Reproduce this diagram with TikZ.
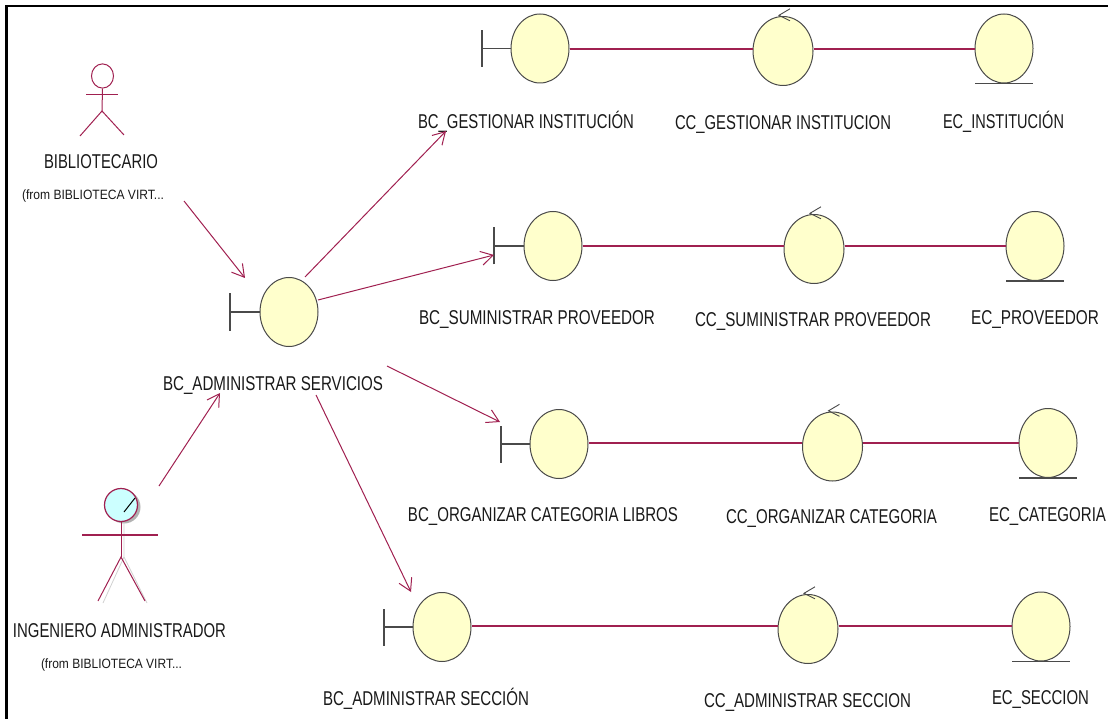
\documentclass[tikz,border=0pt]{standalone}
\usepackage{fontspec}
\usepackage{graphicx}
\setmainfont{Liberation Sans}
\usetikzlibrary{shapes.geometric,arrows.meta}
\definecolor{rose}{HTML}{A02050}
\definecolor{bodyfill}{HTML}{FFFFCC}
\definecolor{edgegray}{HTML}{4A4A4A}
\definecolor{headfill}{HTML}{CCFFFF}
\newcommand{\fitw}[2]{\resizebox{#1pt}{\height}{#2}}
\tikzset{
  ball/.style={ellipse,draw=edgegray,line width=1pt,fill=bodyfill,minimum width=58pt,minimum height=69pt,inner sep=0pt},
  ctrlball/.style={ball,minimum width=60pt},
  mark line/.style={draw=edgegray,line width=1.1pt},
  link/.style={draw=rose,line width=1.6pt},
  flow/.style={draw=rose,line width=1pt,-{Straight Barb[length=12pt,width=14pt,line width=1pt]}},
  limb/.style={draw=rose,line width=1pt},
  lbl/.style={inner sep=0pt,font=\fontsize{20}{20}\selectfont,text=black!90},
  ulbl/.style={lbl,yshift=-2pt},
  sublbl/.style={inner sep=0pt,font=\fontsize{13.5}{13.5}\selectfont,text=black!90},
  shade line/.style={draw=black!18,line width=0.8pt}
}
\begin{document}
\begin{tikzpicture}[x=1pt,y=-1pt]
\useasboundingbox (0,0) rectangle (1108,719);
\draw[line width=2.6pt] (6.5,719) -- (6.5,6) -- (1108,6);

% balls
\node[ball] (adm) at (289,312) {};
\node[ball] (b1) at (540,48.5) {};
\node[ctrlball] (c1) at (783,51) {};
\node[ball] (e1) at (1004,48.5) {};
\node[ball] (b2) at (553,246) {};
\node[ctrlball] (c2) at (814,249) {};
\node[ball] (e2) at (1035,246) {};
\node[ball] (b3) at (559,444) {};
\node[ctrlball] (c3) at (832.5,446.5) {};
\node[ball] (e3) at (1048,443) {};
\node[ball] (b4) at (442,627) {};
\node[ctrlball] (c4) at (808,629) {};
\node[ball] (e4) at (1041,626.5) {};

% boundary marks
\foreach \n/\bx in {adm/230,b1/482,b2/494,b3/501,b4/384}{
  \coordinate (bar-\n) at (\n.west -| \bx,0);
  \path[mark line] (bar-\n) -- (\n.west);
  \path[mark line] ([yshift=-18.5pt]bar-\n) -- ([yshift=18.5pt]bar-\n);
}
% entity underlines
\foreach \n in {e1,e2,e3,e4}{
  \path[mark line] ([xshift=-29pt]\n.south) -- ([xshift=29pt]\n.south);
}
% control arrows
\foreach \n in {c1,c2,c3,c4}{
  \coordinate (tip-\n) at ([xshift=-4pt,yshift=0.7pt]\n.north);
  \draw[edgegray,line width=0.9pt] ([xshift=11pt,yshift=-5.5pt]tip-\n) -- (tip-\n) -- ([xshift=11pt,yshift=6.5pt]tip-\n);
}
% row links
\coordinate (row1) at (0,49);
\coordinate (row2) at (0,246);
\coordinate (row3) at (0,443);
\coordinate (row4) at (0,626);
\foreach \a/\b/\r in {b1/c1/row1,c1/e1/row1,b2/c2/row2,c2/e2/row2,b3/c3/row3,c3/e3/row3,b4/c4/row4,c4/e4/row4}{
  \path[link] (\a.east |- \r) -- (\b.west |- \r);
}

% actor 1
\node[circle,draw=rose,line width=1pt,minimum size=22pt,inner sep=0pt,yscale=1.1] (head1) at (102.5,76) {};
\coordinate (hip1) at (102,111);
\coordinate (armL1) at (86,95);
\coordinate (armR1) at (118,95);
\coordinate (footL1) at (80,136);
\coordinate (footR1) at (124,135);
\path[limb] (head1.south) -- (hip1);
\path[limb] (armL1) -- (armR1);
\path[limb] (footL1) -- (hip1) -- (footR1);

% actor 2
\node[circle,fill=black!30,minimum size=33pt,inner sep=0pt] (shade2) at (124,507) {};
\path[shade line] (124,522) -- (124,557) -- (147,603);
\path[shade line] (124,557) -- (103,603);
\node[circle,draw=rose,fill=headfill,line width=1.2pt,minimum size=33pt,inner sep=0pt] (head2) at (121,505) {};
\draw[black,line width=1pt] (124,512) -- (135,498);
\coordinate (hip2) at (121,557);
\coordinate (armL2) at (82,535);
\coordinate (armR2) at (158,535);
\coordinate (footL2) at (98,601);
\coordinate (footR2) at (145,601);
\path[limb] (head2.south) -- (hip2);
\path[limb,line width=1.3pt] (armL2) -- (armR2);
\path[limb] (footL2) -- (hip2) -- (footR2);

% labels
\node[lbl] (t-bib) at (101,161.5) {\fitw{114}{BIBLIOTECARIO}};
\node[sublbl] (t-bibf) at (93,196.5) {\fitw{142}{(from BIBLIOTECA VIRT...}};
\node[ulbl] (t-adm) at (273,383.5) {\fitw{220}{BC\_ADMINISTRAR SERVICIOS}};
\node[lbl] (t-ing) at (119.5,630.5) {\fitw{213}{INGENIERO ADMINISTRADOR}};
\node[sublbl] (t-ingf) at (111.5,665.5) {\fitw{141}{(from BIBLIOTECA VIRT...}};
\node[ulbl] (t-b1) at (526,120) {\fitw{216}{BC\_GESTIONAR INSTITUCIÓN}};
\node[ulbl] (t-c1) at (783,122.5) {\fitw{216}{CC\_GESTIONAR INSTITUCION}};
\node[ulbl] (t-e1) at (1003.5,120) {\fitw{121}{EC\_INSTITUCIÓN}};
\node[ulbl] (t-b2) at (537,317.5) {\fitw{236}{BC\_SUMINISTRAR PROVEEDOR}};
\node[ulbl] (t-c2) at (813,319.5) {\fitw{236}{CC\_SUMINISTRAR PROVEEDOR}};
\node[ulbl] (t-e2) at (1035,317.5) {\fitw{128}{EC\_PROVEEDOR}};
\node[ulbl] (t-b3) at (543,514.5) {\fitw{270}{BC\_ORGANIZAR CATEGORIA LIBROS}};
\node[ulbl] (t-c3) at (831.5,516.5) {\fitw{211}{CC\_ORGANIZAR CATEGORIA}};
\node[ulbl] (t-e3) at (1047.5,514.5) {\fitw{117}{EC\_CATEGORIA}};
\node[ulbl] (t-b4) at (426,697) {\fitw{206}{BC\_ADMINISTRAR SECCIÓN}};
\node[ulbl] (t-c4) at (807.5,700) {\fitw{207}{CC\_ADMINISTRAR SECCION}};
\node[ulbl] (t-e4) at (1040.5,697.5) {\fitw{97}{EC\_SECCION}};

% flows
\coordinate (f1s) at (184,201);
\coordinate (f1e) at (245,278);
\coordinate (f2s) at (159,486);
\coordinate (f2e) at (220,393);
\coordinate (f3s) at (305,277);
\coordinate (f3e) at (446,131);
\coordinate (f4s) at (318,300);
\coordinate (f4e) at (494,255);
\coordinate (f5s) at (387,366);
\coordinate (f5e) at (500,422);
\coordinate (f6s) at (316,395);
\coordinate (f6e) at (411,592);
\foreach \s/\e in {f1s/f1e,f2s/f2e,f3s/f3e,f4s/f4e,f5s/f5e,f6s/f6e}{
  \path[flow] (\s) -- (\e);
}
\end{tikzpicture}
\end{document}
